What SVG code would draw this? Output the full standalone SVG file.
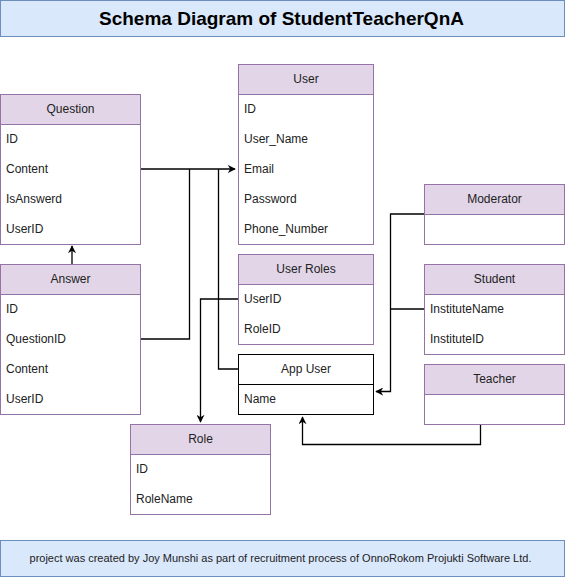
<svg xmlns="http://www.w3.org/2000/svg" width="565" height="577" viewBox="0 0 565 577">
<defs>
<marker id="arr" viewBox="0 0 10 10" refX="9" refY="5" markerWidth="8" markerHeight="8" markerUnits="userSpaceOnUse" orient="auto">
<path d="M0,0 L10,5 L0,10 L3,5 Z" fill="#000"/>
</marker>
</defs>
<style>
text{font-family:"Liberation Sans",Arial,sans-serif;font-size:12px;fill:#222}
.hd{fill:#e1d5e7;stroke:#9673a6;stroke-width:1}
.bd{fill:#fff;stroke:#9673a6;stroke-width:1}
.bk{fill:#fff;stroke:#000;stroke-width:1}
.c{text-anchor:middle}
.e{fill:none;stroke:#000;stroke-width:1.3}
.banner{fill:#dae8fc;stroke:#6c8ebf;stroke-width:1}
</style>
<g id="title">
<rect class="banner" x="0.5" y="0.5" width="564" height="36"/>
<text x="281.5" y="25" class="c" style="font-size:19px;font-weight:bold;fill:#000">Schema Diagram of StudentTeacherQnA</text>
</g>
<g id="connectors">
<path class="e" d="M140,169 L235,169" marker-end="url(#arr)"/>
<path class="e" d="M140,339 L189.5,339 L189.5,169"/>
<path class="e" d="M238,369 L218.5,369 L218.5,169"/>
<path class="e" d="M72,264 L72,246" marker-end="url(#arr)"/>
<path class="e" d="M238,299 L200.5,299 L200.5,422" marker-end="url(#arr)"/>
<path class="e" d="M425,214 L390.5,214 L390.5,391.5 L376,391.5" marker-end="url(#arr)"/>
<path class="e" d="M425,309 L390.5,309"/>
<path class="e" d="M495,424 L480.5,424 L480.5,444.5 L302.5,444.5 L302.5,417" marker-end="url(#arr)"/>
</g>
<g id="question">
<rect class="bd" x="0.5" y="94.5" width="140" height="150"/>
<rect class="hd" x="0.5" y="94.5" width="140" height="30"/>
<text x="70.5" y="112.5" class="c">Question</text>
<text x="6" y="142.5">ID</text>
<text x="6" y="172.5">Content</text>
<text x="6" y="202.5">IsAnswerd</text>
<text x="6" y="232.5">UserID</text>
</g>
<g id="answer">
<rect class="bd" x="0.5" y="264.5" width="140" height="150"/>
<rect class="hd" x="0.5" y="264.5" width="140" height="30"/>
<text x="70.5" y="282.5" class="c">Answer</text>
<text x="6" y="312.5">ID</text>
<text x="6" y="342.5">QuestionID</text>
<text x="6" y="372.5">Content</text>
<text x="6" y="402.5">UserID</text>
</g>
<g id="user">
<rect class="bd" x="238.5" y="64.5" width="135" height="180"/>
<rect class="hd" x="238.5" y="64.5" width="135" height="30"/>
<text x="306" y="82.5" class="c">User</text>
<text x="244" y="112.5">ID</text>
<text x="244" y="142.5">User_Name</text>
<text x="244" y="172.5">Email</text>
<text x="244" y="202.5">Password</text>
<text x="244" y="232.5">Phone_Number</text>
</g>
<g id="userroles">
<rect class="bd" x="238.5" y="254.5" width="135" height="90"/>
<rect class="hd" x="238.5" y="254.5" width="135" height="30"/>
<text x="306" y="272.5" class="c">User Roles</text>
<text x="244" y="302.5">UserID</text>
<text x="244" y="332.5">RoleID</text>
</g>
<g id="appuser">
<rect class="bk" x="238.5" y="354.5" width="135" height="60"/>
<line x1="238.5" y1="384.5" x2="373.5" y2="384.5" stroke="#000"/>
<text x="306" y="372.5" class="c">App User</text>
<text x="244" y="402.5">Name</text>
</g>
<g id="role">
<rect class="bd" x="130.5" y="424.5" width="140" height="90"/>
<rect class="hd" x="130.5" y="424.5" width="140" height="30"/>
<text x="200.5" y="442.5" class="c">Role</text>
<text x="136" y="472.5">ID</text>
<text x="136" y="502.5">RoleName</text>
</g>
<g id="moderator">
<rect class="bd" x="424.5" y="184.5" width="140" height="60"/>
<rect class="hd" x="424.5" y="184.5" width="140" height="30"/>
<text x="494.5" y="202.5" class="c">Moderator</text>
</g>
<g id="student">
<rect class="bd" x="424.5" y="264.5" width="140" height="90"/>
<rect class="hd" x="424.5" y="264.5" width="140" height="30"/>
<text x="494.5" y="282.5" class="c">Student</text>
<text x="430" y="312.5">InstituteName</text>
<text x="430" y="342.5">InstituteID</text>
</g>
<g id="teacher">
<rect class="bd" x="424.5" y="364.5" width="140" height="60"/>
<rect class="hd" x="424.5" y="364.5" width="140" height="30"/>
<text x="494.5" y="382.5" class="c">Teacher</text>
</g>
<g id="footer">
<rect class="banner" x="0.5" y="540.5" width="564" height="36"/>
<text x="280.5" y="562" class="c" style="font-size:11px;fill:#222">project was created by Joy Munshi as part of recruitment process of OnnoRokom Projukti Software Ltd.</text>
</g>
</svg>
